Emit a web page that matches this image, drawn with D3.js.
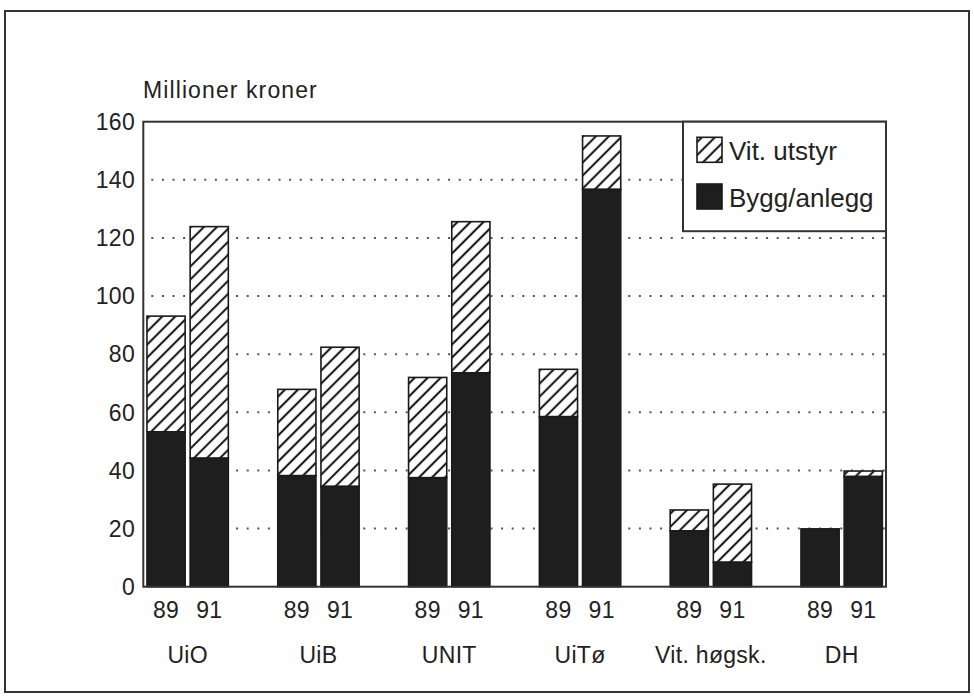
<!DOCTYPE html>
<html>
<head>
<meta charset="utf-8">
<script src="https://cdn.jsdelivr.net/npm/d3@7"></script>
<style>
  body { margin: 0; background: #fff; }
  text { font-family: "Liberation Sans", Arial, sans-serif; fill: #222; }
</style>
</head>
<body>
<svg id="chart" width="974" height="698"></svg>
<script>
const categories = ['UiO', 'UiB', 'UNIT', 'UiTø', 'Vit. høgsk.', 'DH'];
const years = ['89', '91'];
// Bygg/anlegg, million kroner
const bygg89 = [53.3, 38.2, 37.5, 58.5, 19.2, 19.9];
const bygg91 = [44.2, 34.5, 73.6, 136.7, 8.4, 37.9];
// Vit. utstyr, million kroner
const vit89 = [39.8, 29.7, 34.5, 16.3, 7.2, 0];
const vit91 = [79.7, 47.9, 52.0, 18.4, 26.9, 1.9];
const yTicks = [0, 20, 40, 60, 80, 100, 120, 140, 160];

const svg = d3.select('#chart');
const plotL = 143.3, plotR = 886, plotT = 121.7, plotB = 586.7;

const x0 = d3.scaleBand().domain(categories).range([plotL, plotR])
  .paddingInner(0.378).paddingOuter(0.028);
const x1 = d3.scaleBand().domain(years).range([0, x0.bandwidth()])
  .paddingInner(0.116);
const y = d3.scaleLinear().domain([0, 160]).range([plotB, plotT]);

const defs = svg.append('defs');
const pat = defs.append('pattern')
  .attr('id', 'hatch')
  .attr('patternUnits', 'userSpaceOnUse')
  .attr('width', 9.2).attr('height', 10)
  .attr('patternTransform', 'rotate(45)');
pat.append('rect').attr('width', 9.2).attr('height', 10).attr('fill', '#fff');
pat.append('line').attr('x1', 4.6).attr('y1', 0).attr('x2', 4.6).attr('y2', 10)
  .attr('stroke', '#1a1a1a').attr('stroke-width', 2.1);

// outer frame
svg.append('rect')
  .attr('x', 5).attr('y', 11).attr('width', 964).attr('height', 681)
  .attr('fill', 'none').attr('stroke', '#333').attr('stroke-width', 2);

// dotted grid
svg.append('g').selectAll('line')
  .data(yTicks.filter(d => d > 0 && d < 160))
  .join('line')
  .attr('x1', plotL + 8).attr('x2', plotR)
  .attr('y1', d => y(d)).attr('y2', d => y(d))
  .attr('stroke', '#555').attr('stroke-width', 2)
  .attr('stroke-dasharray', '2,8.6');

// bars
const rows = [];
categories.forEach((c, i) => {
  rows.push({ cat: c, year: '89', bygg: bygg89[i], vit: vit89[i] });
  rows.push({ cat: c, year: '91', bygg: bygg91[i], vit: vit91[i] });
});

const bars = svg.append('g').selectAll('g')
  .data(rows)
  .join('g')
  .attr('transform', d => `translate(${x0(d.cat) + x1(d.year)},0)`);

bars.filter(d => d.vit > 0).append('rect')
  .attr('x', 0).attr('width', x1.bandwidth())
  .attr('y', d => y(d.bygg + d.vit))
  .attr('height', d => y(d.bygg) - y(d.bygg + d.vit))
  .attr('fill', 'url(#hatch)')
  .attr('stroke', '#1a1a1a').attr('stroke-width', 1.6);

bars.append('rect')
  .attr('x', 0).attr('width', x1.bandwidth())
  .attr('y', d => y(d.bygg))
  .attr('height', d => y(0) - y(d.bygg))
  .attr('fill', '#1e1e1e')
  .attr('stroke', '#1a1a1a').attr('stroke-width', 1.6);

// plot box
svg.append('rect')
  .attr('x', plotL).attr('y', plotT).attr('width', plotR - plotL).attr('height', plotB - plotT)
  .attr('fill', 'none').attr('stroke', '#333').attr('stroke-width', 2);

// y tick labels
svg.append('g').selectAll('text')
  .data(yTicks)
  .join('text')
  .attr('x', 135).attr('y', d => y(d)).attr('dy', '0.36em')
  .attr('text-anchor', 'end')
  .attr('font-size', 23).attr('letter-spacing', 0.3)
  .text(d => d);

svg.append('text')
  .attr('x', 143).attr('y', 98.3)
  .attr('font-size', 23).attr('letter-spacing', 1.1)
  .text('Millioner kroner');

// year labels
svg.append('g').selectAll('text')
  .data(rows)
  .join('text')
  .attr('x', d => x0(d.cat) + x1(d.year) + x1.bandwidth() / 2)
  .attr('y', 618.3)
  .attr('text-anchor', 'middle')
  .attr('font-size', 23).attr('letter-spacing', 0.3)
  .text(d => d.year);

// category labels
svg.append('g').selectAll('text')
  .data(categories)
  .join('text')
  .attr('x', d => x0(d) + x0.bandwidth() / 2)
  .attr('y', 663.3)
  .attr('text-anchor', 'middle')
  .attr('font-size', 23).attr('letter-spacing', 0.3)
  .text(d => d);

// legend
const lg = svg.append('g');
lg.append('rect')
  .attr('x', 683).attr('y', plotT).attr('width', plotR - 683).attr('height', 109.5)
  .attr('fill', '#fff').attr('stroke', '#333').attr('stroke-width', 2);
const legendItems = [
  { label: 'Vit. utstyr', fill: 'url(#hatch)', y: 137.3 },
  { label: 'Bygg/anlegg', fill: '#1e1e1e', y: 184 }
];
legendItems.forEach(it => {
  lg.append('rect')
    .attr('x', 697).attr('y', it.y).attr('width', 25).attr('height', 25)
    .attr('fill', it.fill).attr('stroke', '#1a1a1a').attr('stroke-width', 1.6);
  lg.append('text')
    .attr('x', 729).attr('y', it.y + 23)
    .attr('font-size', 26)
    .text(it.label);
});
</script>
</body>
</html>
